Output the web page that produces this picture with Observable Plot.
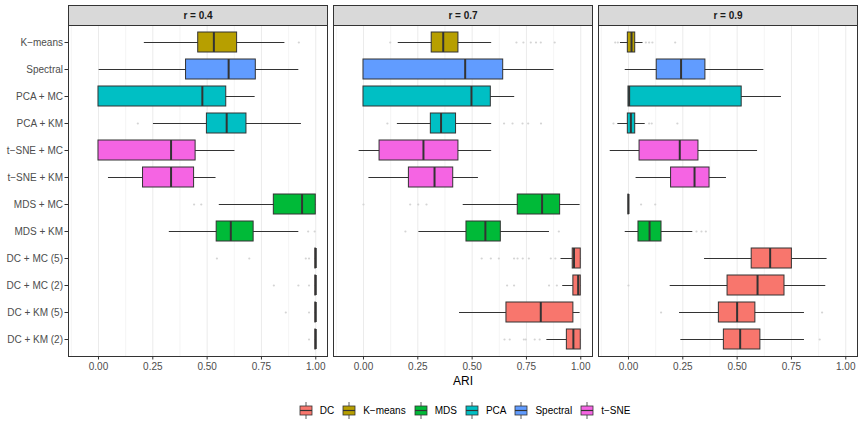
<!DOCTYPE html>
<html>
<head>
<meta charset="utf-8">
<script src="https://cdn.jsdelivr.net/npm/d3@7"></script>
<script src="https://cdn.jsdelivr.net/npm/@observablehq/plot@0.6"></script>
<style>
  body { margin: 0; background: #fff; font-family: "Liberation Sans", Arial, sans-serif; }
  #legend { display: flex; justify-content: center; align-items: center; width: 865px; height: 36px;
            padding-left: 64px; box-sizing: border-box; font-size: 10px; color: #000; }
  .item { display: flex; align-items: center; margin-right: 8px; }
  .item:last-child { margin-right: 0; }
  .item svg { margin-right: 7px; }
</style>
</head>
<body>
<div id="chart"></div>
<div id="legend"></div>
<script>
const methods = ["K−means", "Spectral", "PCA + MC", "PCA + KM", "t−SNE + MC", "t−SNE + KM",
                 "MDS + MC", "MDS + KM", "DC + MC (5)", "DC + MC (2)", "DC + KM (5)", "DC + KM (2)"];
const families = ["K−means", "Spectral", "PCA", "PCA", "t−SNE", "t−SNE",
                  "MDS", "MDS", "DC", "DC", "DC", "DC"];
const legendOrder = ["DC", "K−means", "MDS", "PCA", "Spectral", "t−SNE"];
const familyColors = ["#F8766D", "#B79F00", "#00BA38", "#00BFC4", "#619CFF", "#F564E3"];
const rLevels = ["0.4", "0.7", "0.9"];
const xTicks = [0, 0.25, 0.5, 0.75, 1];
const xMinorTicks = [-0.125, 0.125, 0.375, 0.625, 0.875];
const xDomain = [-0.138, 1.054];

// Box summaries per method: [lower whisker, q1, median, q3, upper whisker]
const boxes04 = [
  [0.211, 0.459, 0.531, 0.638, 0.858],
  [0.003, 0.403, 0.599, 0.724, 0.922],
  [0.000, 0.000, 0.478, 0.588, 0.721],
  [0.253, 0.499, 0.590, 0.681, 0.934],
  [0.000, 0.000, 0.334, 0.447, 0.628],
  [0.046, 0.205, 0.334, 0.440, 0.541],
  [0.556, 0.807, 0.937, 1.000, 1.000],
  [0.326, 0.544, 0.609, 0.714, 0.922],
  [0.998, 0.998, 1.000, 1.000, 1.000],
  [0.998, 0.998, 1.000, 1.000, 1.000],
  [0.998, 0.998, 1.000, 1.000, 1.000],
  [0.998, 0.998, 1.000, 1.000, 1.000]
];
const boxes07 = [
  [0.160, 0.314, 0.367, 0.437, 0.590],
  [0.000, 0.000, 0.468, 0.643, 0.877],
  [0.000, 0.000, 0.497, 0.586, 0.696],
  [0.156, 0.310, 0.357, 0.426, 0.590],
  [-0.020, 0.074, 0.276, 0.437, 0.590],
  [0.025, 0.209, 0.327, 0.413, 0.529],
  [0.459, 0.710, 0.822, 0.905, 0.997],
  [0.255, 0.474, 0.561, 0.632, 0.856],
  [0.909, 0.963, 0.969, 1.000, 1.000],
  [0.917, 0.966, 0.988, 1.000, 1.000],
  [0.442, 0.658, 0.816, 0.966, 0.997],
  [0.844, 0.936, 0.966, 1.000, 1.000]
];
const boxes09 = [
  [-0.037, -0.003, 0.014, 0.031, 0.067],
  [-0.015, 0.130, 0.242, 0.354, 0.623],
  [0.000, 0.000, 0.003, 0.521, 0.704],
  [-0.049, -0.003, 0.011, 0.031, 0.077],
  [-0.084, 0.051, 0.236, 0.322, 0.594],
  [0.035, 0.196, 0.304, 0.373, 0.451],
  [0.000, 0.000, 0.000, 0.001, 0.001],
  [-0.015, 0.046, 0.097, 0.152, 0.296],
  [0.350, 0.567, 0.652, 0.752, 0.914],
  [0.192, 0.456, 0.594, 0.718, 0.908],
  [0.235, 0.416, 0.500, 0.584, 0.810],
  [0.241, 0.439, 0.514, 0.607, 0.810]
];

// Outlying values per method
const outliers04 = [
  [0.922], [], [], [0.181], [], [],
  [0.440, 0.473], [0.965, 0.995],
  [0.545, 0.694, 0.954, 0.969], [0.807, 0.920, 0.969], [0.862, 0.969], [0.969]
];
const outliers07 = [
  [0.123, 0.704, 0.736, 0.770, 0.794, 0.816, 0.880], [], [],
  [0.110, 0.647, 0.686, 0.732, 0.758, 0.817], [], [],
  [0.000, 0.215, 0.252, 0.290], [0.193, 0.899],
  [0.544, 0.586, 0.623, 0.693, 0.709, 0.733, 0.761, 0.862, 0.883],
  [0.661, 0.693, 0.854, 0.890], [],
  [0.649, 0.673, 0.738, 0.747, 0.788, 0.811]
];
const outliers09 = [
  [-0.061, -0.049, 0.080, 0.095, 0.110, 0.215], [], [],
  [-0.069, 0.095, 0.107, 0.225], [], [],
  [0.058, 0.123], [0.313, 0.336, 0.356],
  [], [0.000], [0.150, 0.891], [0.880]
];

const boxSets = [boxes04, boxes07, boxes09];
const outlierSets = [outliers04, outliers07, outliers09];

const rows = rLevels.flatMap((r, k) => boxSets[k].map(([low, q1, med, q3, high], i) =>
  ({r, method: methods[i], family: families[i], low, q1, med, q3, high})));
const points = rLevels.flatMap((r, k) => outlierSets[k].flatMap((vals, i) =>
  vals.map(v => ({r, method: methods[i], v}))));

const ink = "#333333";
const stripHeight = 20;

const chart = Plot.plot({
  width: 865,
  height: 392,
  marginLeft: 68,
  marginRight: 7,
  marginTop: 25,
  marginBottom: 36,
  style: {fontFamily: "'Liberation Sans', Arial, sans-serif", fontSize: "10px", overflow: "visible"},
  fx: {domain: rLevels, axis: null, paddingInner: 0.021, paddingOuter: 0},
  x: {domain: xDomain, label: null},
  y: {domain: methods, paddingInner: 0.25, paddingOuter: 0.225, label: null},
  color: {domain: legendOrder, range: familyColors},
  marks: [
    Plot.gridX(xMinorTicks, {stroke: "#EBEBEB", strokeOpacity: 1, strokeWidth: 0.5}),
    Plot.gridX(xTicks, {stroke: "#EBEBEB", strokeOpacity: 1, strokeWidth: 1}),
    Plot.dot(points, {fx: "r", y: "method", x: "v", r: 1.1, fill: "#D4D4D4", stroke: null}),
    Plot.ruleY(rows, {fx: "r", y: "method", x1: "low", x2: "high", stroke: ink, strokeWidth: 1}),
    Plot.barX(rows, {fx: "r", y: "method", x1: "q1", x2: "q3", fill: "family", stroke: ink, strokeWidth: 1}),
    Plot.tickX(rows, {fx: "r", y: "method", x: "med", stroke: ink, strokeWidth: 2}),
    Plot.frame({stroke: ink, strokeWidth: 1}),
    Plot.axisY({tickSize: 3.5, tickPadding: 2, fontSize: 10, stroke: ink, fill: "#4D4D4D", label: null}),
    Plot.axisX(xTicks, {tickSize: 3.5, tickPadding: 3, fontSize: 10, stroke: ink, fill: "#4D4D4D",
                        tickFormat: d3.format(".2f"), label: null}),
    Plot.text([{r: "0.7", t: "ARI"}], {fx: "r", text: "t", frameAnchor: "bottom", dy: 28, fontSize: 12, fill: "#000"})
  ]
});
document.getElementById("chart").appendChild(chart);

// Grey facet strips with their labels, placed above each panel frame
const svg = d3.select(chart);
const svgBox = chart.getBoundingClientRect();
const frames = chart.querySelectorAll('g[aria-label="frame"] rect');
const strips = svg.append("g").attr("aria-label", "strips");
frames.forEach((node, i) => {
  const b = node.getBoundingClientRect();
  const x = b.left - svgBox.left, y = b.top - svgBox.top, w = b.width;
  strips.append("rect")
    .attr("x", x).attr("y", y - stripHeight)
    .attr("width", w).attr("height", stripHeight)
    .attr("fill", "#D9D9D9").attr("stroke", ink).attr("stroke-width", 1);
  strips.append("text")
    .attr("x", x + w / 2).attr("y", y - stripHeight / 2)
    .attr("dy", "0.35em").attr("text-anchor", "middle")
    .attr("font-weight", "bold").attr("font-size", 10).attr("fill", "#1A1A1A")
    .text(`r = ${rLevels[i]}`);
});

// Legend with boxplot keys
const legend = d3.select("#legend");
legendOrder.forEach((name, i) => {
  const item = legend.append("div").attr("class", "item");
  const key = item.append("svg").attr("width", 14).attr("height", 17);
  key.append("line").attr("x1", 7).attr("x2", 7).attr("y1", 0).attr("y2", 17)
    .attr("stroke", ink).attr("stroke-width", 0.8);
  key.append("rect").attr("x", 1).attr("y", 4).attr("width", 12).attr("height", 9)
    .attr("fill", familyColors[i]).attr("stroke", ink).attr("stroke-width", 0.8);
  key.append("line").attr("x1", 1).attr("x2", 13).attr("y1", 8.5).attr("y2", 8.5)
    .attr("stroke", ink).attr("stroke-width", 1.2);
  item.append("span").text(name);
});
</script>
</body>
</html>
